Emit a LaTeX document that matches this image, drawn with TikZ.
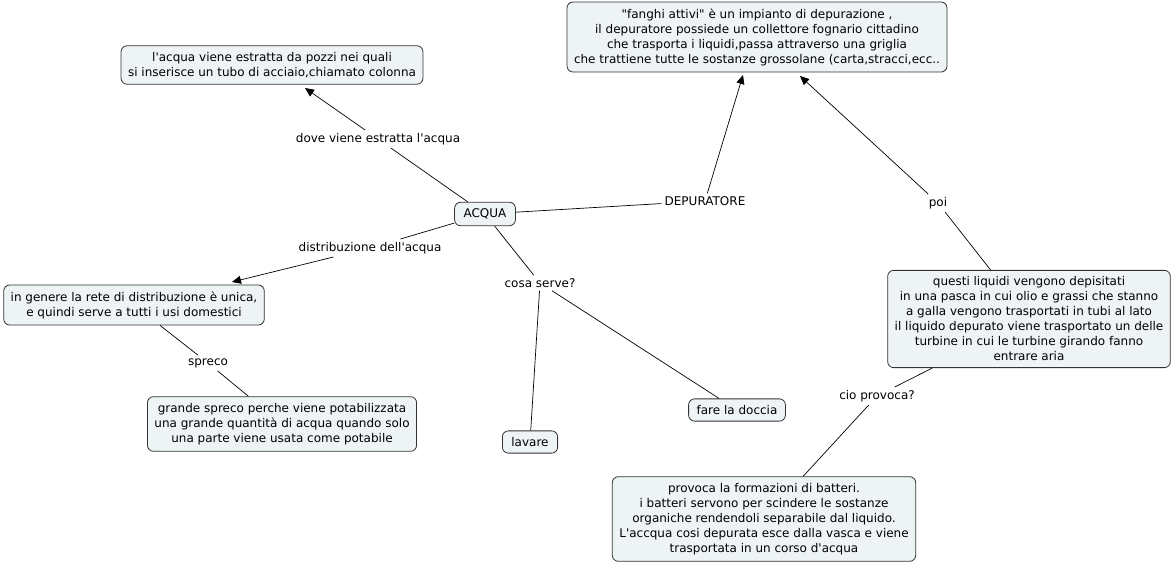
\documentclass[tikz,border=0pt]{standalone}
\usepackage{fontspec}
\setmainfont{DejaVu Sans}[Ligatures=TeXOff]
\usetikzlibrary{arrows.meta}
\definecolor{boxfill}{HTML}{EEF3F5}
\definecolor{boxline}{HTML}{333333}
\tikzset{
  concept/.style={draw=boxline, fill=boxfill, rounded corners=6pt, line width=0.8pt,
    align=center, inner xsep=7pt, inner ysep=6.5pt, font=\fontsize{12}{15}\selectfont},
  linklab/.style={align=center, inner sep=3pt, font=\fontsize{12}{15}\selectfont},
  conn/.style={draw=black, line width=0.7pt},
  arr/.style={conn, -{Triangle[length=9pt,width=8pt]}}
}
\begin{document}
\begin{tikzpicture}[x=1pt,y=-1pt]
\useasboundingbox (0,0) rectangle (1175,564);
% concepts
\node[concept, inner xsep=9pt] (acqua) at (485,214) {ACQUA};
\node[concept] (pozzi) at (272,65) {l'acqua viene estratta da pozzi nei quali\\si inserisce un tubo di acciaio,chiamato colonna};
\node[concept] (rete) at (134,305) {in genere la rete di distribuzione è unica,\\e quindi serve a tutti i usi domestici};
\node[concept] (spreco) at (282,424) {grande spreco perche viene potabilizzata\\una grande quantità di acqua quando solo\\una parte viene usata come potabile};
\node[concept, inner xsep=9pt] (lavare) at (530,442) {lavare};
\node[concept, inner xsep=8pt] (doccia) at (737,410) {fare la doccia};
\node[concept] (fanghi) at (757,37) {"fanghi attivi" è un impianto di depurazione ,\\il depuratore possiede un collettore fognario cittadino\\che trasporta i liquidi,passa attraverso una griglia\\che trattiene tutte le sostanze grossolane (carta,stracci,ecc..};
\node[concept] (liquidi) at (1029,319) {questi liquidi vengono depisitati\\in una pasca in cui olio e grassi che stanno\\a galla vengono trasportati in tubi al lato\\il liquido depurato viene trasportato un delle\\turbine in cui le turbine girando fanno\\entrare aria};
\node[concept] (batteri) at (764,519) {provoca la formazioni di batteri.\\i batteri servono per scindere le sostanze\\organiche rendendoli separabile dal liquido.\\L'accqua cosi depurata esce dalla vasca e viene\\trasportata in un corso d'acqua};
% link labels
\node[linklab] (ldove) at (378,139) {dove viene estratta l'acqua};
\node[linklab] (ldistr) at (370,248) {distribuzione dell'acqua};
\node[linklab] (lspreco) at (208,363) {spreco};
\node[linklab] (lcosa) at (540,283) {cosa serve?};
\node[linklab] (ldep) at (705,201) {DEPURATORE};
\node[linklab] (lpoi) at (938,203) {poi};
\node[linklab] (lcio) at (877,396) {cio provoca?};
% connectors
\draw[conn] (acqua) -- (ldove);
\draw[arr] (ldove) -- (305,88);
\draw[conn] (acqua) -- (ldistr);
\draw[arr] (ldistr) -- (232,282);
\draw[conn] (rete) -- (lspreco);
\draw[conn] (lspreco) -- (spreco);
\draw[conn] (acqua) -- (lcosa);
\draw[conn] (lcosa) -- (lavare);
\draw[conn] (lcosa) -- (doccia);
\draw[conn] (acqua) -- (ldep);
\draw[arr] (ldep) -- (743,75);
\draw[conn] (liquidi) -- (lpoi);
\draw[arr] (lpoi) -- (800,76);
\draw[conn] (liquidi) -- (lcio);
\draw[conn] (lcio) -- (batteri);
\end{tikzpicture}
\end{document}
